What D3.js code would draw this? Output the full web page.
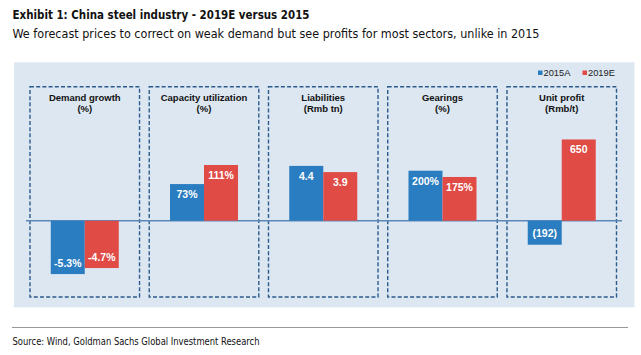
<!DOCTYPE html>
<html><head><meta charset="utf-8">
<script src="https://cdn.jsdelivr.net/npm/d3@7"></script>
<style>body{margin:0;background:#fff}svg{display:block}</style>
</head><body>
<svg id="c" width="641" height="355"></svg>
<script>
const categories = ["Demand growth", "Capacity utilization", "Liabilities", "Gearings", "Unit profit"];
const units = ["(%)", "(%)", "(Rmb tn)", "(%)", "(Rmb/t)"];
const seriesNames = ["2015A", "2019E"];
const values2015A = [-5.3, 73, 4.4, 200, -192];
const values2019E = [-4.7, 111, 3.9, 175, 650];
const valueLabels2015A = ["-5.3%", "73%", "4.4", "200%", "(192)"];
const valueLabels2019E = ["-4.7%", "111%", "3.9", "175%", "650"];
const axisMin = [-7.58, -152, -6.13, -305, -610];
const axisMax = [13.33, 267, 10.76, 536, 1072];

const colors = {"2015A": "#2a7dc0", "2019E": "#e04b46"};
const svg = d3.select("#c");
const narrow = "'Liberation Sans Narrow','DejaVu Sans Condensed','Arial Narrow',sans-serif";
const sans = "'Liberation Sans',Arial,sans-serif";

// Title & subtitle
svg.append("text").attr("x", 12.5).attr("y", 19).attr("font-family", narrow)
  .attr("font-weight", "bold").attr("font-size", 12.5).attr("fill", "#111")
  .attr("textLength", 297).attr("lengthAdjust", "spacingAndGlyphs")
  .text("Exhibit 1: China steel industry - 2019E versus 2015");
svg.append("text").attr("x", 12.5).attr("y", 37.5).attr("font-family", narrow)
  .attr("font-size", 11.5).attr("fill", "#111")
  .attr("textLength", 527).attr("lengthAdjust", "spacingAndGlyphs")
  .text("We forecast prices to correct on weak demand but see profits for most sectors, unlike in 2015");

// background
svg.append("rect").attr("x", 14).attr("y", 62.3).attr("width", 620.5).attr("height", 245)
  .attr("fill", "#dce7f2");

// legend
const lg = svg.append("g");
seriesNames.forEach((s, i) => {
  const lx = [538, 582.5][i];
  lg.append("rect").attr("x", lx).attr("y", 70.5).attr("width", 4.5).attr("height", 4.5).attr("fill", colors[s]);
  lg.append("text").attr("x", lx + 5.5).attr("y", 76).attr("font-family", sans)
    .attr("font-size", 9.3).attr("fill", "#222").text(s);
});

// scales
const boxTop = 86.7, boxBottom = 297;
const x = d3.scaleBand().domain(categories).range([30, 616.5]).paddingInner(0.0814).paddingOuter(0);
const bw = x.bandwidth();
const xs = d3.scaleBand().domain(seriesNames).range([(bw - 68) / 2, (bw + 68) / 2]).paddingInner(0);
const yScales = categories.map((c, i) => d3.scaleLinear().domain([axisMin[i], axisMax[i]]).range([boxBottom, boxTop]));
const zeroY = yScales[0](0);

// dashed boxes
categories.forEach((c, i) => {
  const g = svg.append("g").attr("transform", `translate(${x(c)},0)`);
  g.append("rect").attr("x", 0).attr("y", boxTop).attr("width", bw).attr("height", boxBottom - boxTop)
    .attr("fill", "none").attr("stroke", "#2b5b8c").attr("stroke-width", 1.4).attr("stroke-dasharray", "4,2.2");
  g.append("text").attr("x", bw / 2).attr("y", 100.7).attr("text-anchor", "middle")
    .attr("font-family", sans).attr("font-weight", "bold").attr("font-size", 9.5).attr("fill", "#111").text(c);
  g.append("text").attr("x", bw / 2).attr("y", 112.3).attr("text-anchor", "middle")
    .attr("font-family", sans).attr("font-weight", "bold").attr("font-size", 9.5).attr("fill", "#111").text(units[i]);
});

// zero line
svg.append("line").attr("x1", 26).attr("x2", 622).attr("y1", zeroY).attr("y2", zeroY)
  .attr("stroke", "#5b88b6").attr("stroke-width", 1.6);

// bars
const data = [];
categories.forEach((c, i) => {
  data.push({c, i, s: "2015A", v: values2015A[i], label: valueLabels2015A[i]});
  data.push({c, i, s: "2019E", v: values2019E[i], label: valueLabels2019E[i]});
});
const bars = svg.append("g");
data.forEach(d => {
  const y = yScales[d.i];
  const bx = x(d.c) + xs(d.s);
  const y0 = y(0), y1 = y(d.v);
  bars.append("rect").attr("x", bx).attr("width", xs.bandwidth())
    .attr("y", Math.min(y0, y1)).attr("height", Math.abs(y1 - y0)).attr("fill", colors[d.s]);
  const ty = d.v >= 0 ? y1 + 14 : y1 - 7.5;
  bars.append("text").attr("x", bx + xs.bandwidth() / 2).attr("y", ty).attr("text-anchor", "middle")
    .attr("font-family", sans).attr("font-weight", "bold").attr("font-size", 10.5).attr("fill", "#fff").text(d.label);
});

// footer
svg.append("line").attr("x1", 12).attr("x2", 628).attr("y1", 327.5).attr("y2", 327.5)
  .attr("stroke", "#999").attr("stroke-width", 1.2);
svg.append("text").attr("x", 12.5).attr("y", 345).attr("font-family", narrow)
  .attr("font-size", 10).attr("fill", "#111")
  .attr("textLength", 247).attr("lengthAdjust", "spacingAndGlyphs")
  .text("Source: Wind, Goldman Sachs Global Investment Research");
</script>
</body></html>
